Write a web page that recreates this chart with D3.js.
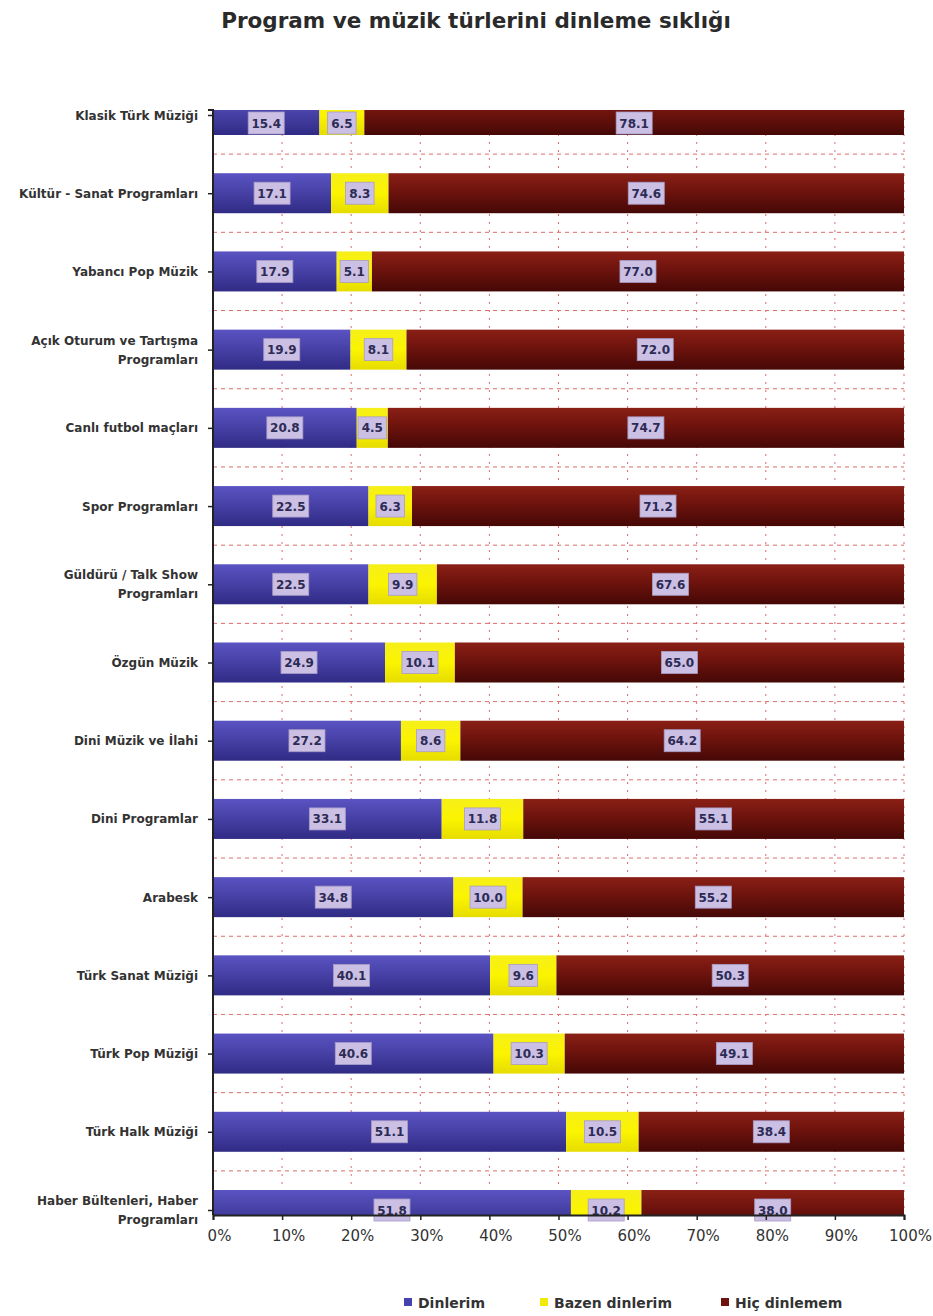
<!DOCTYPE html>
<html>
<head>
<meta charset="utf-8">
<script src="https://cdn.jsdelivr.net/npm/d3@7/dist/d3.min.js"></script>
<style>
  body { margin: 0; background: #fff; }
  svg text { font-family: "DejaVu Sans", "Liberation Sans", Arial, sans-serif; }
  .cat-label { font-size: 12px; font-weight: bold; fill: #333; }
  .val-label { font-size: 12px; font-weight: bold; fill: #2b2b55; }
  .x-axis text { font-size: 15px; fill: #333; }
  .legend-text { font-size: 14px; font-weight: bold; fill: #333; }
</style>
</head>
<body>
<div id="chart"></div>
<script>
// category order top to bottom
const categories = [
  "Klasik Türk Müziği",
  "Kültür - Sanat Programları",
  "Yabancı Pop Müzik",
  "Açık Oturum ve Tartışma Programları",
  "Canlı futbol maçları",
  "Spor Programları",
  "Güldürü / Talk Show Programları",
  "Özgün Müzik",
  "Dini Müzik ve İlahi",
  "Dini Programlar",
  "Arabesk",
  "Türk Sanat Müziği",
  "Türk Pop Müziği",
  "Türk Halk Müziği",
  "Haber Bültenleri, Haber Programları"
];

// how the long names break onto two lines
const labelLines = [
  ["Klasik Türk Müziği"],
  ["Kültür - Sanat Programları"],
  ["Yabancı Pop Müzik"],
  ["Açık Oturum ve Tartışma", "Programları"],
  ["Canlı futbol maçları"],
  ["Spor Programları"],
  ["Güldürü / Talk Show", "Programları"],
  ["Özgün Müzik"],
  ["Dini Müzik ve İlahi"],
  ["Dini Programlar"],
  ["Arabesk"],
  ["Türk Sanat Müziği"],
  ["Türk Pop Müziği"],
  ["Türk Halk Müziği"],
  ["Haber Bültenleri, Haber", "Programları"]
];

const dinlerim = [15.4, 17.1, 17.9, 19.9, 20.8, 22.5, 22.5, 24.9, 27.2, 33.1, 34.8, 40.1, 40.6, 51.1, 51.8];
const bazen = [6.5, 8.3, 5.1, 8.1, 4.5, 6.3, 9.9, 10.1, 8.6, 11.8, 10.0, 9.6, 10.3, 10.5, 10.2];
const hic = [78.1, 74.6, 77.0, 72.0, 74.7, 71.2, 67.6, 65.0, 64.2, 55.1, 55.2, 50.3, 49.1, 38.4, 38.0];

const seriesNames = ["Dinlerim", "Bazen dinlerim", "Hiç dinlemem"];
const xTicks = [0, 10, 20, 30, 40, 50, 60, 70, 80, 90, 100];

const width = 933;
const height = 1316;
const plot = { left: 213, right: 904, top: 110, bottom: 1215 };
const barHeight = 40;

const rows = categories.map((name, i) => ({
  name,
  lines: labelLines[i],
  values: [dinlerim[i], bazen[i], hic[i]]
}));

const x = d3.scaleLinear().domain([0, 100]).range([plot.left, plot.right]);
const y = d3.scalePoint().domain(categories).range([115, 1210]);

const svg = d3
  .select("#chart")
  .append("svg")
  .attr("width", width)
  .attr("height", height);

const defs = svg.append("defs");

function addGradient(id, stops) {
  const g = defs
    .append("linearGradient")
    .attr("id", id)
    .attr("x1", 0).attr("y1", 0)
    .attr("x2", 0).attr("y2", 1);
  stops.forEach(([offset, color]) => {
    g.append("stop").attr("offset", offset).attr("stop-color", color);
  });
}

addGradient("grad-blue", [["0%", "#5a53c2"], ["45%", "#4842a8"], ["100%", "#302b84"]]);
addGradient("grad-yellow", [["0%", "#f6ef1a"], ["50%", "#fbf400"], ["100%", "#e6dc00"]]);
addGradient("grad-red", [["0%", "#8a2016"], ["45%", "#6e130d"], ["100%", "#450806"]]);

const fills = ["url(#grad-blue)", "url(#grad-yellow)", "url(#grad-red)"];
const legendColors = ["#4741ad", "#f2ea00", "#6e130d"];

defs
  .append("clipPath")
  .attr("id", "plot-clip")
  .append("rect")
  .attr("x", plot.left)
  .attr("y", plot.top)
  .attr("width", plot.right - plot.left + 1)
  .attr("height", plot.bottom - plot.top);

// title
svg
  .append("text")
  .attr("x", 476)
  .attr("y", 28)
  .attr("text-anchor", "middle")
  .style("font-size", "21.5px")
  .style("font-weight", "bold")
  .style("fill", "#2a2a2a")
  .text("Program ve müzik türlerini dinleme sıklığı");

// grid: vertical dashed lines at each 10 %
const grid = svg.append("g").attr("clip-path", "url(#plot-clip)");
grid
  .selectAll("line.vgrid")
  .data(xTicks.slice(1))
  .join("line")
  .attr("class", "vgrid")
  .attr("x1", (d) => x(d))
  .attr("x2", (d) => x(d))
  .attr("y1", plot.top)
  .attr("y2", plot.bottom)
  .attr("stroke", "#e06a6a")
  .attr("stroke-width", 1)
  .attr("stroke-dasharray", "2,6");

// horizontal dashed lines between bars
const step = y.step();
grid
  .selectAll("line.hgrid")
  .data(categories.slice(1))
  .join("line")
  .attr("class", "hgrid")
  .attr("x1", plot.left)
  .attr("x2", plot.right)
  .attr("y1", (d) => y(d) - step / 2)
  .attr("y2", (d) => y(d) - step / 2)
  .attr("stroke", "#e06a6a")
  .attr("stroke-width", 1)
  .attr("stroke-dasharray", "4,4");

// stacked bars
const bars = svg.append("g").attr("clip-path", "url(#plot-clip)");
rows.forEach((row) => {
  let start = 0;
  row.values.forEach((v, k) => {
    bars
      .append("rect")
      .attr("x", x(start))
      .attr("y", y(row.name) - barHeight / 2)
      .attr("width", x(start + v) - x(start))
      .attr("height", barHeight)
      .attr("fill", fills[k]);
    start += v;
  });
});

// value labels in lavender boxes
const labels = svg.append("g");
rows.forEach((row) => {
  let start = 0;
  const cy = Math.max(y(row.name), plot.top + 13);
  row.values.forEach((v) => {
    const cx = x(start + v / 2);
    const txt = v.toFixed(1);
    const w = txt.length * 7.5 + 6;
    labels
      .append("rect")
      .attr("x", cx - w / 2)
      .attr("y", cy - 11)
      .attr("width", w)
      .attr("height", 22)
      .attr("fill", "#cbbfe3")
      .attr("stroke", "#a89cc8")
      .attr("stroke-width", 0.8);
    labels
      .append("text")
      .attr("class", "val-label")
      .attr("x", cx)
      .attr("y", cy + 4.5)
      .attr("text-anchor", "middle")
      .text(txt);
    start += v;
  });
});

// y axis line with ticks
svg
  .append("g")
  .attr("transform", `translate(${plot.left},0)`)
  .call(d3.axisLeft(y).tickSize(5).tickFormat(""))
  .call((g) => g.select(".domain").attr("stroke", "#222").attr("stroke-width", 2).attr("d", `M-5,${plot.top}H0V${plot.bottom}`))
  .call((g) => g.selectAll(".tick line").attr("stroke", "#222").attr("stroke-width", 1.5));

// category labels
const catLabels = svg.append("g");
rows.forEach((row) => {
  const lineH = 19;
  const n = row.lines.length;
  const t = catLabels
    .append("text")
    .attr("class", "cat-label")
    .attr("text-anchor", "end")
    .attr("x", 198)
    .attr("y", y(row.name) + 4.5 - ((n - 1) * lineH) / 2);
  row.lines.forEach((line, j) => {
    t.append("tspan")
      .attr("x", 198)
      .attr("dy", j === 0 ? 0 : lineH)
      .text(line);
  });
});

// x axis
svg
  .append("g")
  .attr("class", "x-axis")
  .attr("transform", `translate(0,${plot.bottom})`)
  .call(d3.axisBottom(x).tickValues(xTicks).tickSize(5).tickPadding(10).tickFormat((d) => `${d}%`))
  .call((g) => g.select(".domain").attr("stroke", "#222").attr("stroke-width", 2))
  .call((g) => g.selectAll(".tick line").attr("stroke", "#222").attr("stroke-width", 1.5))
  .call((g) => g.selectAll(".tick text").attr("dx", 6));

// legend
const legendX = [404, 540, 721];
const legend = svg.append("g");
seriesNames.forEach((name, k) => {
  legend
    .append("rect")
    .attr("x", legendX[k])
    .attr("y", 1298)
    .attr("width", 8)
    .attr("height", 8)
    .attr("fill", legendColors[k]);
  legend
    .append("text")
    .attr("class", "legend-text")
    .attr("x", legendX[k] + 14)
    .attr("y", 1308)
    .text(name);
});
</script>
</body>
</html>
